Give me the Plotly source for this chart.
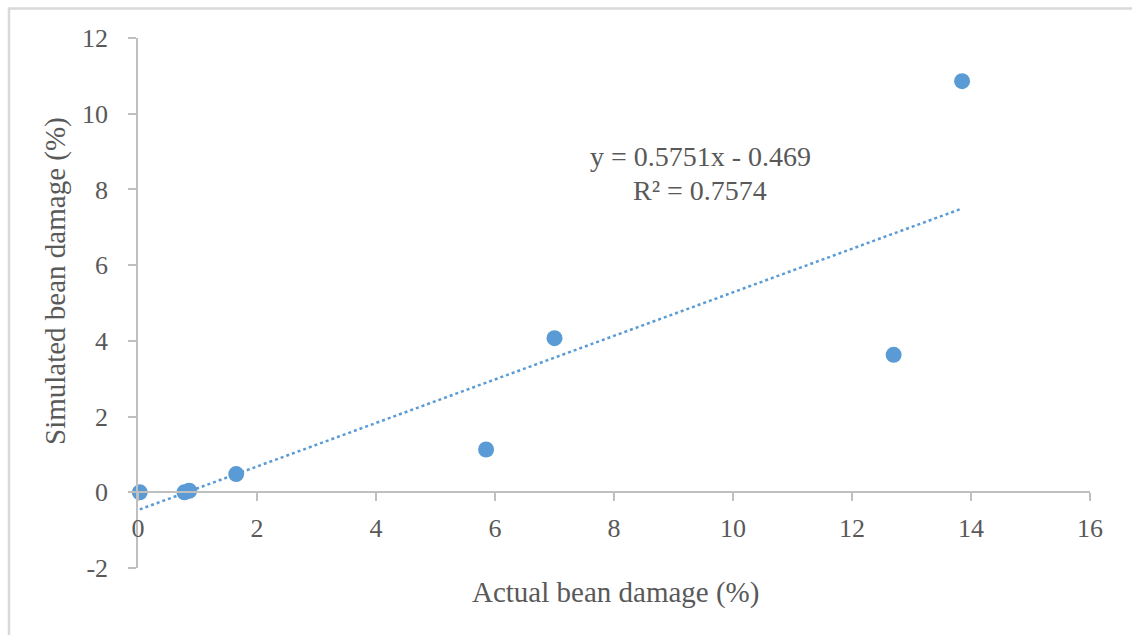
import plotly.graph_objects as go

actual = [0.03, 0.78, 0.86, 1.65, 5.85, 7.0, 12.7, 13.85]
simulated = [0.0, 0.0, 0.04, 0.48, 1.13, 4.07, 3.63, 10.86]
slope = 0.5751
intercept = -0.469
eq_text = "y = 0.5751x - 0.469"
r2_text = "R² = 0.7574"
x_title = "Actual bean damage (%)"
y_title = "Simulated bean damage (%)"
x_ticks = [0, 2, 4, 6, 8, 10, 12, 14, 16]
y_ticks = [-2, 0, 2, 4, 6, 8, 10, 12]
y_tick_text = ["-2", "0", "2", "4", "6", "8", "10", "12"]

BLUE = "#5B9BD5"
GREY = "#595959"
AXIS = "#BFBFBF"
FONT = "Liberation Serif"

W, H = 1132, 635
ml, mr, mt, mb = 138, 42, 38, 67
pw, ph = W - ml - mr, H - mt - mb

xmin, xmax = min(actual), max(actual)
trend_x = [xmin + (xmax - xmin) * i / 50 for i in range(51)]
trend_y = [slope * v + intercept for v in trend_x]

fig = go.Figure()
fig.add_trace(go.Scatter(x=trend_x, y=trend_y, mode="lines",
                         line=dict(color=BLUE, width=2.5, dash="dot"),
                         hoverinfo="skip", showlegend=False))
fig.add_trace(go.Scatter(x=actual, y=simulated, mode="markers",
                         marker=dict(color=BLUE, size=16),
                         cliponaxis=False, showlegend=False))

def px_x(p):
    return (p - ml) / pw

def px_y(p):
    return (H - mb - p) / ph

fig.add_shape(type="path", xref="paper", yref="paper",
              path=f"M {px_x(9)} {px_y(640)} L {px_x(9)} {px_y(8.5)} L {px_x(1132)} {px_y(8.5)}",
              line=dict(color="#D9D9D9", width=2.5))

def label(text, xp, yp, size, angle=0):
    fig.add_annotation(x=px_x(xp), y=px_y(yp), xref="paper", yref="paper",
                       xanchor="center", yanchor="middle",
                       text=text, showarrow=False, textangle=angle,
                       font=dict(family=FONT, size=size, color=GREY))

label(eq_text, 700, 157, 28)
label(r2_text, 700, 190, 28)
label(x_title, 615, 592, 29)
label(y_title, 55, 281, 29, -90)

fig.update_layout(
    width=W, height=H,
    margin=dict(l=ml, r=mr, t=mt, b=mb),
    paper_bgcolor="white", plot_bgcolor="white",
    font=dict(family=FONT, size=26, color=GREY),
    xaxis=dict(range=[0, 16], tickvals=x_ticks, showgrid=False, zeroline=False,
               showline=True, linecolor=AXIS, linewidth=1.5,
               ticks="outside", ticklen=8, tickcolor=AXIS, tickwidth=1.5,
               anchor="free", position=2 / 14, ticklabelstandoff=5,
               tickfont=dict(family=FONT, size=26, color=GREY)),
    yaxis=dict(range=[-2, 12], tickvals=y_ticks, ticktext=y_tick_text,
               showgrid=False, zeroline=False,
               showline=True, linecolor=AXIS, linewidth=1.5,
               ticks="outside", ticklen=8, tickcolor=AXIS, tickwidth=1.5,
               ticklabelstandoff=15,
               tickfont=dict(family=FONT, size=26, color=GREY)),
)

fig.write_html("out.html")
